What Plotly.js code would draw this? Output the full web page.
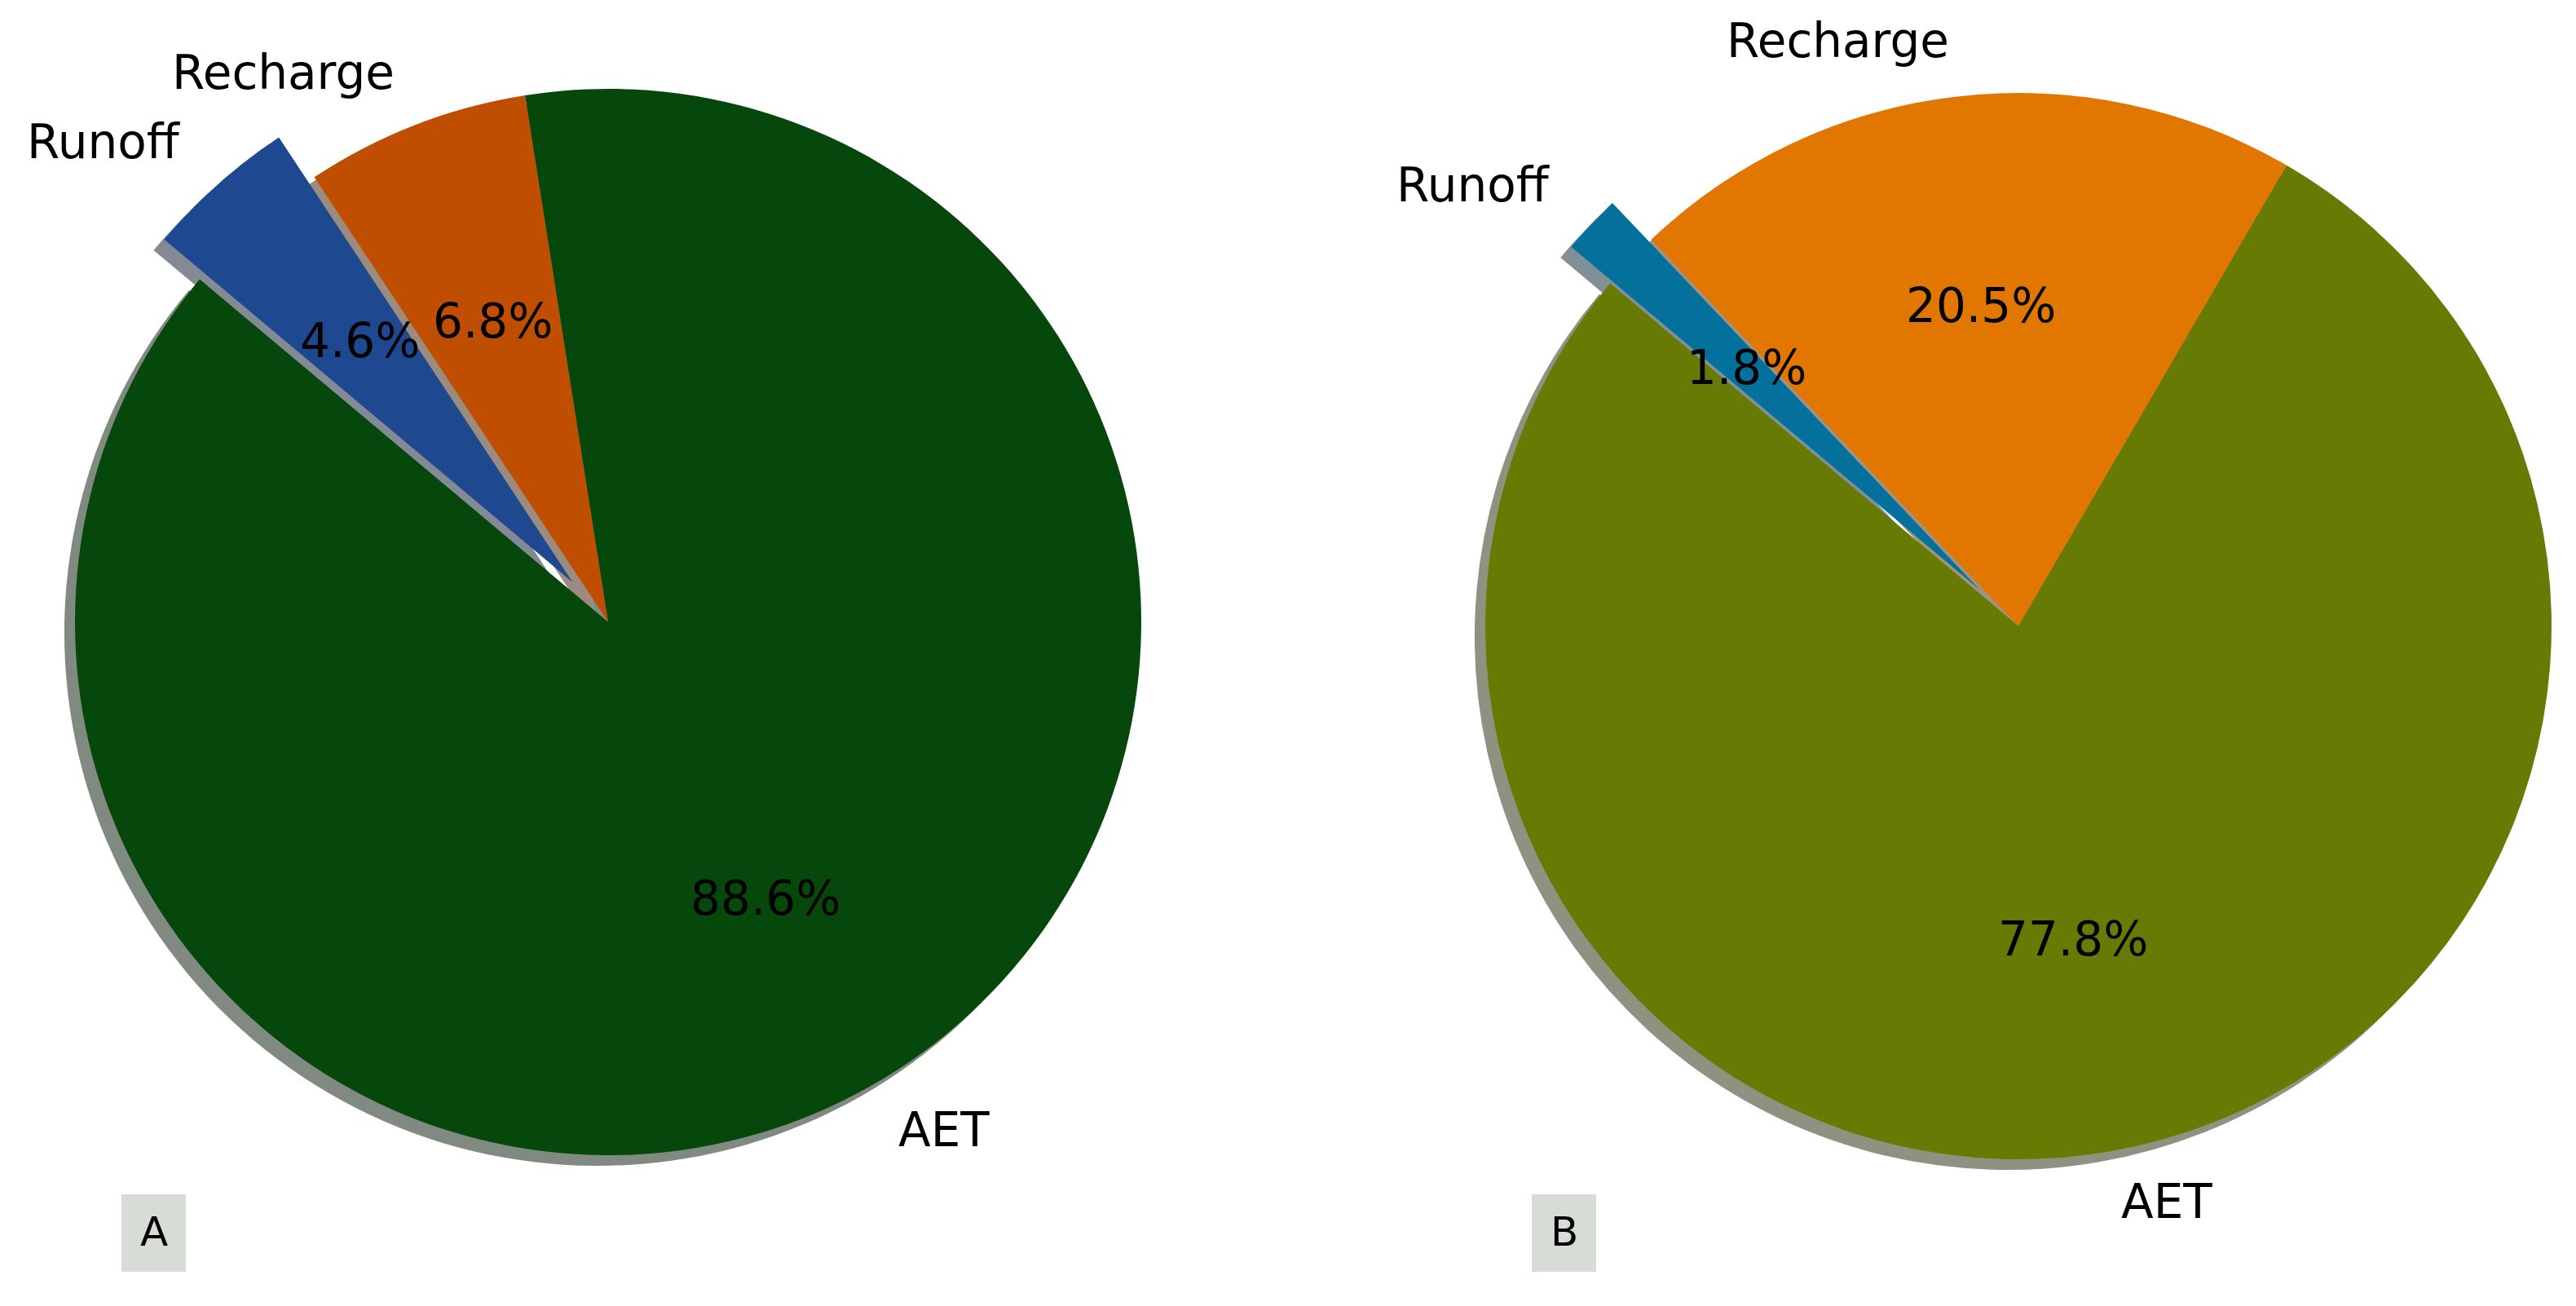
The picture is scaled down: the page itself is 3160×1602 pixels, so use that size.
<!DOCTYPE html>
<html><head><meta charset="utf-8">
<script src="https://cdn.plot.ly/plotly-3.0.1.min.js"></script>
<style>html,body{margin:0;padding:0;overflow:hidden;background:#fff}</style>
</head><body><div id="chart" style="width:3240px;height:1602px"></div>
<script>
// ---- data ----
const labelsA = ['Runoff', 'Recharge', 'AET'];
const valuesA = [4.6, 6.8, 88.6];
const colorsA = ['#1e488f', '#c04e01', '#06470c'];
const labelsB = ['Runoff', 'Recharge', 'AET'];
const valuesB = [1.8, 20.5, 77.8];
const colorsB = ['#03719c', '#e17701', '#677a04'];
const pulls = [0.1, 0, 0];
const panelTags = ['A', 'B'];

// ---- layout geometry ----
const W = 3240, H = 1602;
const R = 654;
const centers = [[746, 763], [2476, 768]];
const startAngle = 140;          // math degrees, where the first slice starts (going clockwise)
const FONT = 'DejaVu Sans';
const FS = 58;

function shadowColor(hex) {
  const n = parseInt(hex.slice(1), 16);
  const r = (n >> 16) & 255, g = (n >> 8) & 255, b = n & 255;
  return 'rgba(' + Math.round(0.3*r) + ',' + Math.round(0.3*g) + ',' + Math.round(0.3*b) + ',0.5)';
}

const panels = [
  {labels: labelsA, values: valuesA, colors: colorsA},
  {labels: labelsB, values: valuesB, colors: colorsB}
];

const traces = [], annotations = [], shapes = [];
const maxPull = Math.max.apply(null, pulls);
const half = R * (1 + maxPull);

function domainFor(cx, cy) {
  return {x: [(cx - half) / W, (cx + half) / W], y: [1 - (cy + half) / H, 1 - (cy - half) / H]};
}

// shadows first
panels.forEach((p, k) => {
  const [cx, cy] = centers[k];
  traces.push({
    type: 'pie', labels: p.labels, values: p.values, sort: false,
    direction: 'clockwise', rotation: 90 - startAngle, pull: pulls,
    marker: {colors: p.colors.map(shadowColor), line: {width: 0}},
    textinfo: 'none', hoverinfo: 'skip', showlegend: false,
    domain: domainFor(cx - 0.02 * R, cy + 0.02 * R)
  });
});
panels.forEach((p, k) => {
  const [cx, cy] = centers[k];
  traces.push({
    type: 'pie', labels: p.labels, values: p.values, sort: false,
    direction: 'clockwise', rotation: 90 - startAngle, pull: pulls,
    marker: {colors: p.colors, line: {width: 0}},
    textinfo: 'none', hoverinfo: 'label+percent', showlegend: false,
    domain: domainFor(cx, cy)
  });
  // labels and percentages positioned like matplotlib (labeldistance 1.1, pctdistance 0.6)
  const total = p.values.reduce((a, b) => a + b, 0);
  let cum = 0;
  p.values.forEach((v, i) => {
    const a0 = startAngle - 360 * cum / total;
    cum += v;
    const a1 = startAngle - 360 * cum / total;
    const th = (a0 + a1) / 2 * Math.PI / 180;
    const c = Math.cos(th), s = Math.sin(th);
    const ox = cx + pulls[i] * R * c, oy = cy - pulls[i] * R * s;
    const lx = ox + 1.1 * R * c, ly = oy - 1.1 * R * s;
    annotations.push({
      xref: 'paper', yref: 'paper', x: lx / W, y: 1 - ly / H, yshift: 3,
      text: p.labels[i], showarrow: false,
      xanchor: c > 0 ? 'left' : 'right', yanchor: 'middle',
      font: {family: FONT, size: FS, color: '#000'}
    });
    const tx = ox + 0.6 * R * c, ty = oy - 0.6 * R * s;
    annotations.push({
      xref: 'paper', yref: 'paper', x: tx / W, y: 1 - ty / H, yshift: 3,
      text: v.toFixed(1) + '%', showarrow: false,
      xanchor: 'center', yanchor: 'middle',
      font: {family: FONT, size: FS, color: '#000'}
    });
  });
  // panel tag box
  const bx0 = cx - 597, bx1 = cx - 518, by0 = 1465, by1 = 1560;
  shapes.push({
    type: 'rect', xref: 'paper', yref: 'paper', layer: 'below',
    x0: bx0 / W, x1: bx1 / W, y0: 1 - by1 / H, y1: 1 - by0 / H,
    fillcolor: '#d8dcd6', line: {width: 0}
  });
  annotations.push({
    xref: 'paper', yref: 'paper', x: (bx0 + bx1) / 2 / W, y: 1 - (by0 + by1) / 2 / H, yshift: 2,
    text: panelTags[k], showarrow: false, xanchor: 'center', yanchor: 'middle',
    font: {family: FONT, size: 50, color: '#000'}
  });
});

const layout = {
  width: W, height: H,
  margin: {l: 0, r: 0, t: 0, b: 0},
  paper_bgcolor: '#ffffff',
  font: {family: FONT, color: '#000'},
  showlegend: false,
  annotations: annotations,
  shapes: shapes
};

Plotly.newPlot('chart', traces, layout, {displayModeBar: false, staticPlot: true});
</script>
</body></html>
